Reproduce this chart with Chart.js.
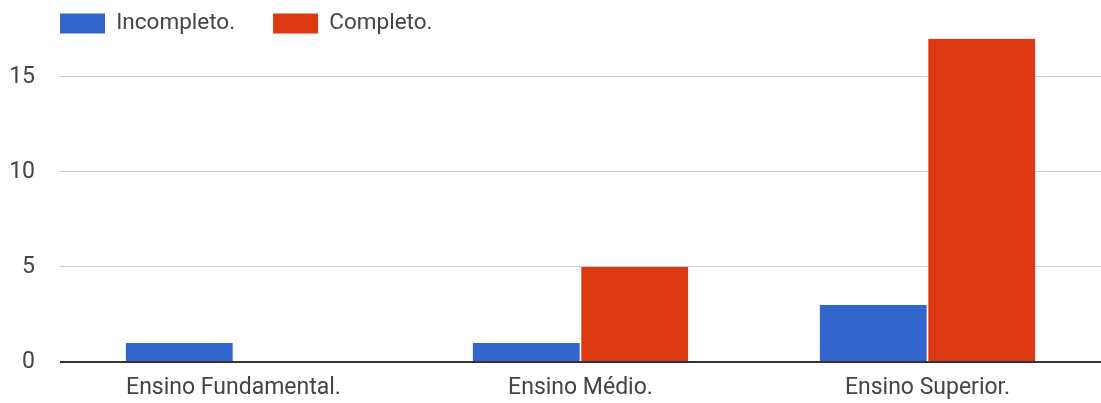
<!DOCTYPE html>
<html lang="pt">
<head>
  <meta charset="UTF-8" />
  <title>Escolaridade</title>
  <script src="https://cdn.jsdelivr.net/npm/chart.js"></script>
  <style>
    html, body { margin: 0; padding: 0; background: #fff; }
    #wrap { width: 1101px; height: 403px; }
  </style>
</head>
<body>
  <div id="wrap"><canvas id="chart"></canvas></div>

  <script>
    const categories = ['Ensino Fundamental.', 'Ensino Médio.', 'Ensino Superior.'];
    const incompleto = [1, 1, 3];
    const completo = [0, 5, 17];
    const yTicks = [0, 5, 10, 15];

    // legend starts at the plot's left edge, not the canvas edge
    const legendShift = {
      id: 'legendShift',
      afterLayout(chart) {
        chart.legend.left += 22;
        chart.legend.right += 22;
      }
    };

    new Chart(document.getElementById('chart'), {
      type: 'bar',
      data: {
        labels: categories,
        datasets: [
          { label: 'Incompleto.', data: incompleto, backgroundColor: '#3366cc' },
          { label: 'Completo.', data: completo, backgroundColor: '#dc3912' }
        ]
      },
      plugins: [legendShift],
      options: {
        responsive: true,
        maintainAspectRatio: false,
        animation: false,
        categoryPercentage: 0.625,
        barPercentage: 0.985,
        layout: { padding: { top: -29, left: 0, right: 0, bottom: -10.6 } },
        plugins: {
          tooltip: { enabled: false },
          legend: {
            position: 'top',
            align: 'start',
            maxHeight: 64.6,
            labels: {
              boxWidth: 45,
              boxHeight: 20,
              padding: 38,
              color: '#444',
              font: { family: 'Roboto', size: 22.5 }
            }
          }
        },
        scales: {
          x: {
            border: { display: false },
            grid: { display: false, drawTicks: false },
            ticks: { color: '#444', font: { family: 'Roboto', size: 23 }, padding: 12 }
          },
          y: {
            min: 0,
            max: 17,
            border: { display: false },
            afterFit: s => { s.width = 60; },
            afterBuildTicks: s => { s.ticks = yTicks.map(v => ({ value: v })); },
            grid: {
              drawTicks: false,
              color: c => c.tick && c.tick.value === 0 ? '#333' : '#ccc',
              lineWidth: c => c.tick && c.tick.value === 0 ? 2 : 1
            },
            ticks: { color: '#444', font: { family: 'Roboto', size: 23 }, padding: 25 }
          }
        }
      }
    });
  </script>
</body>
</html>
